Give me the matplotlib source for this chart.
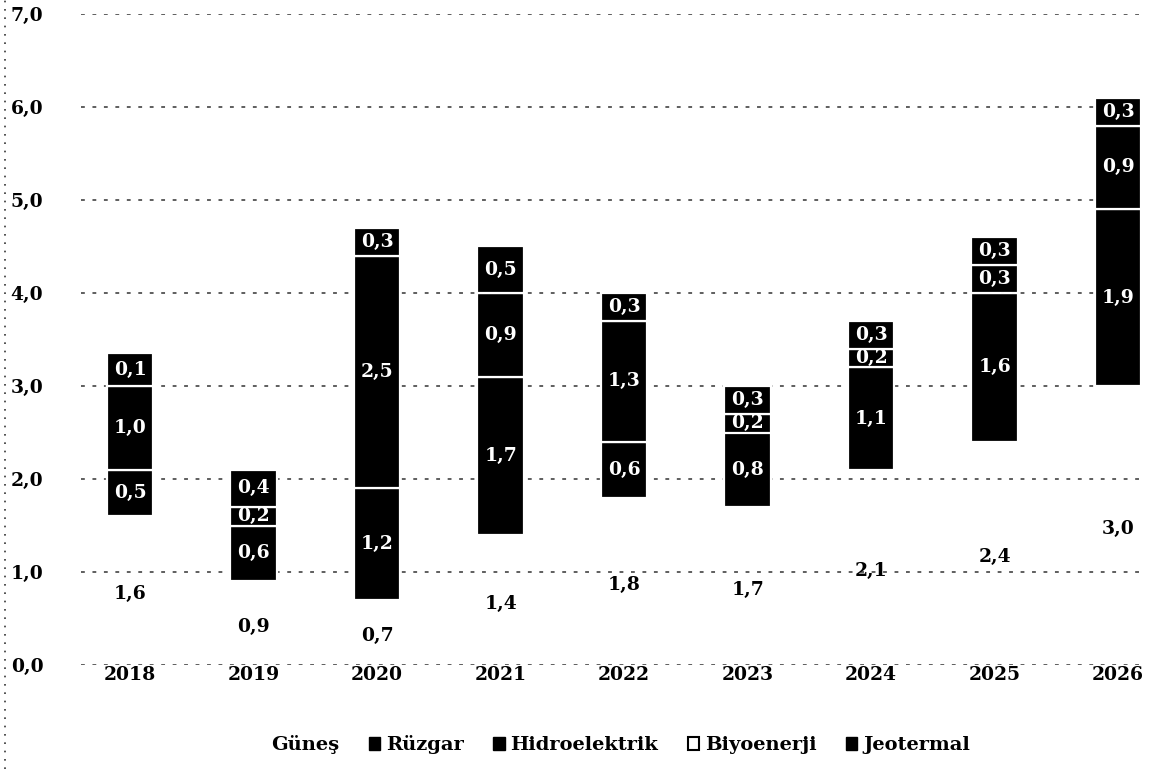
import matplotlib
matplotlib.use("Agg")
import matplotlib.pyplot as plt
from matplotlib.patches import Patch
from matplotlib.lines import Line2D
import numpy as np

years = ["2018", "2019", "2020", "2021", "2022", "2023", "2024", "2025", "2026"]
# segment heights as drawn (bottom to top)
gunes = [1.6, 0.9, 0.7, 1.4, 1.8, 1.7, 2.1, 2.4, 3.0]
ruzgar = [0.5, 0.6, 1.2, 1.7, 0.6, 0.8, 1.1, 1.6, 1.9]
hidro = [0.9, 0.2, 2.5, 0.9, 1.3, 0.2, 0.2, 0.3, 0.9]
jeotermal = [0.35, 0.4, 0.3, 0.5, 0.3, 0.3, 0.3, 0.3, 0.3]
# printed data labels
gunes_lbl = ["1,6", "0,9", "0,7", "1,4", "1,8", "1,7", "2,1", "2,4", "3,0"]
ruzgar_lbl = ["0,5", "0,6", "1,2", "1,7", "0,6", "0,8", "1,1", "1,6", "1,9"]
hidro_lbl = ["1,0", "0,2", "2,5", "0,9", "1,3", "0,2", "0,2", "0,3", "0,9"]
jeotermal_lbl = ["0,1", "0,4", "0,3", "0,5", "0,3", "0,3", "0,3", "0,3", "0,3"]
legend_labels = ["Güneş", "Rüzgar", "Hidroelektrik", "Biyoenerji", "Jeotermal"]
yticks = [0, 1, 2, 3, 4, 5, 6, 7]

plt.rcParams['font.family'] = ['DejaVu Serif']
plt.rcParams['font.weight'] = 'bold'

fig = plt.figure(figsize=(11.49, 7.69), dpi=100)
W, H = 1149, 769
ax = fig.add_axes([60 / W, (H - 665) / H, (W - 60) / W, (665 - 14) / H])

x = np.arange(len(years))
bw = 0.375
lbl = dict(ha='center', va='center', fontsize=13.5, fontweight='bold')

bottom = np.zeros(len(years))
ax.bar(x, gunes, bw, bottom=bottom, color='none', edgecolor='none', zorder=2)
for i, v in enumerate(gunes):
    ax.text(x[i], bottom[i] + v / 2 - 0.04, gunes_lbl[i], color='black', **lbl, zorder=4)
bottom += np.array(gunes)

for series, labels in ((ruzgar, ruzgar_lbl), (hidro, hidro_lbl), (jeotermal, jeotermal_lbl)):
    ax.bar(x, series, bw, bottom=bottom, color='black', edgecolor='white', linewidth=1.6, zorder=2)
    for i, v in enumerate(series):
        ax.text(x[i], bottom[i] + v / 2, labels[i], color='white', **lbl, zorder=4)
    bottom += np.array(series)

ax.set_xlim(-0.567, 8.25)
ax.set_ylim(0, 7)
ax.set_yticks(yticks)
ax.set_yticklabels([f"{t:.1f}".replace('.', ',') for t in yticks], fontsize=13.5, fontweight='bold')
ax.set_xticks(x)
ax.set_xticklabels(years, fontsize=13.5, fontweight='bold')
ax.tick_params(axis='y', length=0, pad=12)
ax.tick_params(axis='x', length=0, pad=1)
for s in ax.spines.values():
    s.set_visible(False)
for t in yticks:
    ax.plot([-0.4, 8.22], [t, t], color='#333333', lw=1.1, ls=(0, (2.5, 5)), zorder=1)

# left dotted border of the scan
fig.add_artist(Line2D([5 / W, 5 / W], [0, 1], color='#333333', lw=1.2, ls=(0, (1, 4))))

handles = [
    Patch(facecolor='white', edgecolor='none'),
    Patch(facecolor='black', edgecolor='black'),
    Patch(facecolor='black', edgecolor='black'),
    Patch(facecolor='white', edgecolor='black', linewidth=1.5),
    Patch(facecolor='black', edgecolor='black'),
]
fig.legend(handles, legend_labels, loc='center', bbox_to_anchor=(612 / W, (H - 745) / H),
           ncol=5, frameon=False, handlelength=0.6, handleheight=0.6,
           handletextpad=0.3, columnspacing=1.5, prop={'weight': 'bold', 'size': 14})

fig.savefig("out.png", dpi=100)
